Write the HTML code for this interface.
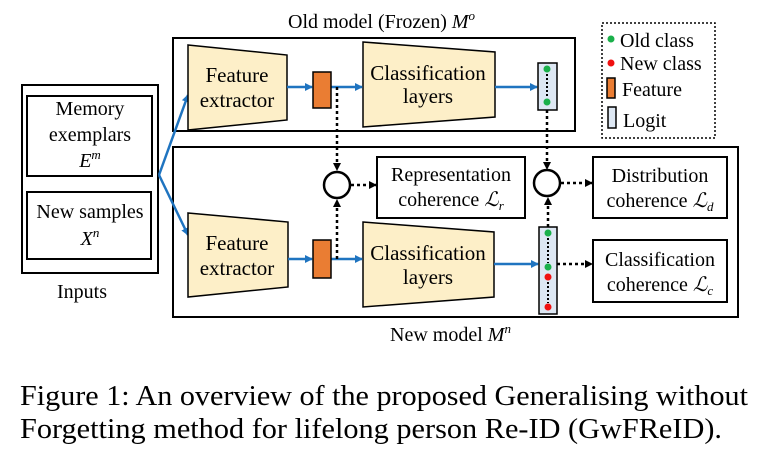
<!DOCTYPE html>
<html><head><meta charset="utf-8"><style>
body{margin:0;background:#fff;width:768px;height:456px;overflow:hidden}
svg{font-family:"Liberation Serif",serif}
</style></head><body>
<svg width="768" height="456" viewBox="0 0 768 456" xmlns="http://www.w3.org/2000/svg">
<defs>
<marker id="b" markerWidth="8" markerHeight="8" refX="7" refY="4" orient="auto" markerUnits="userSpaceOnUse"><path d="M0,0 L8,4 L0,8z" fill="#1f74c0"/></marker>
<marker id="k" markerWidth="8" markerHeight="8" refX="7" refY="4" orient="auto" markerUnits="userSpaceOnUse"><path d="M0,0 L8,4 L0,8z" fill="#000"/></marker>
</defs>
<g font-size="20" fill="#000">
<text x="288" y="28">Old model (Frozen) <tspan font-style="italic">M</tspan><tspan font-style="italic" font-size="13" dy="-8">o</tspan></text>
<text x="390" y="341">New model <tspan font-style="italic">M</tspan><tspan font-style="italic" font-size="13" dy="-8">n</tspan></text>
<text x="57" y="298">Inputs</text>
</g>
<rect x="173" y="38" width="402" height="93" fill="none" stroke="#000" stroke-width="2"/>
<rect x="173" y="147" width="565" height="170" fill="none" stroke="#000" stroke-width="2"/>
<rect x="22" y="85" width="136" height="188" fill="none" stroke="#000" stroke-width="2"/>
<rect x="27" y="96" width="125" height="80" fill="none" stroke="#000" stroke-width="2"/>
<rect x="27" y="192" width="124" height="67" fill="none" stroke="#000" stroke-width="2"/>
<g font-size="20" text-anchor="middle">
<text x="90" y="115">Memory</text><text x="90" y="141">exemplars</text>
<text x="90" y="167" font-style="italic">E<tspan font-size="13" dy="-8">m</tspan></text>
<text x="90" y="218">New samples</text>
<text x="90" y="245" font-style="italic">X<tspan font-size="13" dy="-8">n</tspan></text>
</g>
<path d="M159,175 L188,95" stroke="#1f74c0" stroke-width="2.5" fill="none" marker-end="url(#b)"/>
<path d="M159,175 L188,235" stroke="#1f74c0" stroke-width="2.5" fill="none" marker-end="url(#b)"/>
<g fill="#fdefc8" stroke="#000" stroke-width="1.5">
<polygon points="188,45 287,55 287,120 188,130"/>
<polygon points="363,42 495,52 495,117 363,127"/>
<polygon points="188,213 288,222 288,287 188,297"/>
<polygon points="363,222 494,232 494,297 363,307"/>
</g>
<g font-size="21" text-anchor="middle">
<text x="237" y="82">Feature</text><text x="237" y="107">extractor</text>
<text x="428" y="80">Classification</text><text x="428" y="103">layers</text>
<text x="237" y="250">Feature</text><text x="237" y="275">extractor</text>
<text x="428" y="260">Classification</text><text x="428" y="284">layers</text>
</g>
<g stroke="#1f74c0" stroke-width="2.5" fill="none">
<path d="M287,87 L312,87" marker-end="url(#b)"/>
<path d="M331,87 L362,87" marker-end="url(#b)"/>
<path d="M495,87 L537,87" marker-end="url(#b)"/>
<path d="M288,259 L312,259" marker-end="url(#b)"/>
<path d="M331,259 L362,259" marker-end="url(#b)"/>
<path d="M494,264 L538,264" marker-end="url(#b)"/>
</g>
<rect x="313" y="72" width="18" height="36" fill="#ea7d33" stroke="#000" stroke-width="1.5"/>
<rect x="313" y="240" width="18" height="38" fill="#ea7d33" stroke="#000" stroke-width="1.5"/>
<rect x="538" y="63" width="19" height="47" fill="#dde7f3" stroke="#000" stroke-width="1.5"/>
<rect x="539" y="227" width="18" height="87" fill="#dde7f3" stroke="#000" stroke-width="1.5"/>
<g fill="#1ab04a"><circle cx="547" cy="69" r="3.5"/><circle cx="547" cy="102" r="3.5"/><circle cx="548" cy="233" r="3.5"/><circle cx="548" cy="267" r="3.5"/></g>
<g fill="#f01010"><circle cx="548" cy="277" r="3.5"/><circle cx="548" cy="307" r="3.5"/></g>
<g stroke="#000" stroke-width="2" stroke-dasharray="2,2" fill="none">
<path d="M547,74 L547,98"/><path d="M548,238 L548,263"/><path d="M548,282 L548,303"/>
</g>
<g stroke="#000" stroke-width="2.5" stroke-dasharray="3,3" fill="none">
<path d="M337,87 L337,170" marker-end="url(#k)"/>
<path d="M337,259 L337,200" marker-end="url(#k)"/>
<path d="M351,185 L376,185" marker-end="url(#k)"/>
<path d="M547,110 L547,169" marker-end="url(#k)"/>
<path d="M548,227 L548,198" marker-end="url(#k)"/>
<path d="M561,183 L592,183" marker-end="url(#k)"/>
<path d="M557,264 L592,264" marker-end="url(#k)"/>
</g>
<circle cx="337" cy="185" r="13" fill="#fff" stroke="#000" stroke-width="2.5"/>
<circle cx="547" cy="183" r="13" fill="#fff" stroke="#000" stroke-width="2.5"/>
<rect x="377" y="157" width="148" height="61" fill="#fff" stroke="#000" stroke-width="2"/>
<rect x="593" y="157" width="134" height="61" fill="#fff" stroke="#000" stroke-width="2"/>
<rect x="593" y="240" width="134" height="62" fill="#fff" stroke="#000" stroke-width="2"/>
<g font-size="20" text-anchor="middle">
<text x="451" y="181">Representation</text><text x="451" y="206">coherence <tspan font-style="italic">ℒ</tspan><tspan font-style="italic" font-size="13" dy="4">r</tspan></text>
<text x="660" y="182">Distribution</text><text x="660" y="207">coherence <tspan font-style="italic">ℒ</tspan><tspan font-style="italic" font-size="13" dy="4">d</tspan></text>
<text x="660" y="266">Classification</text><text x="660" y="291">coherence <tspan font-style="italic">ℒ</tspan><tspan font-style="italic" font-size="13" dy="4">c</tspan></text>
</g>
<rect x="602" y="23" width="113" height="115" fill="#fff" stroke="#000" stroke-width="1.5" stroke-dasharray="2,2"/>
<circle cx="611" cy="39" r="3.5" fill="#1ab04a"/><circle cx="611" cy="63" r="3.5" fill="#f01010"/>
<rect x="607" y="78" width="8" height="20" fill="#ea7d33" stroke="#000" stroke-width="1.5"/>
<rect x="608" y="107" width="8" height="21" fill="#dde7f3" stroke="#000" stroke-width="1.5"/>
<g font-size="20"><text x="620" y="47">Old class</text><text x="620" y="70">New class</text><text x="622" y="96">Feature</text><text x="623" y="127">Logit</text></g>
<g font-size="29"><text x="20" y="405" textLength="728" lengthAdjust="spacingAndGlyphs">Figure 1: An overview of the proposed Generalising without</text>
<text x="20" y="438" textLength="702" lengthAdjust="spacingAndGlyphs">Forgetting method for lifelong person Re-ID (GwFReID).</text></g>
</svg>
</body></html>
